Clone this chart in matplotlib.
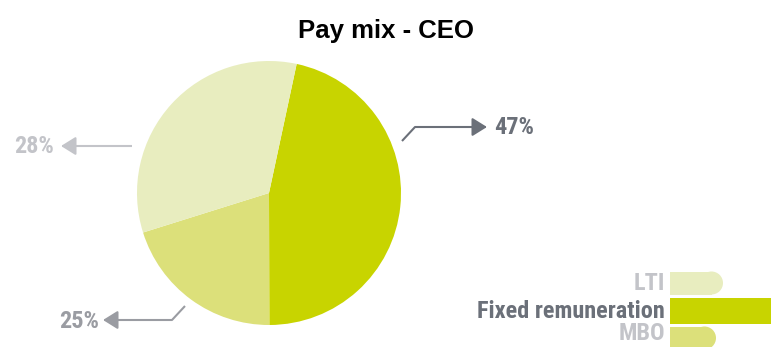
import matplotlib.pyplot as plt
from matplotlib import font_manager
from matplotlib.patches import Rectangle, Ellipse

W, H = 771, 347

# pay mix of the CEO
categories = ['Fixed remuneration', 'MBO', 'LTI']
pct_labels = ['47%', '25%', '28%']
# wedge shares as drawn in the picture (clockwise from the top)
shares = [46.6, 20.2, 33.2]
colors = ['#c8d400', '#dce07a', '#e8edbf']
label_colors = ['#6b7079', '#9a9ca2', '#c3c4c9']

# look for a condensed face, otherwise use Liberation Sans
names = {f.name for f in font_manager.fontManager.ttflist}
narrow = None
for cand in ['Liberation Sans Narrow', 'Roboto Condensed', 'Open Sans Condensed',
             'Noto Sans Condensed', 'DejaVu Sans Condensed']:
    if cand in names:
        narrow = cand
        break
if narrow is None:
    font_kw = dict(family=['Liberation Sans', 'DejaVu Sans'], fontsize=15)
else:
    font_kw = dict(family=[narrow, 'DejaVu Sans'], fontsize=17.5)

fig = plt.figure(figsize=(W / 100, H / 100), dpi=100)
ax = fig.add_axes([0, 0, 1, 1])

cx, cy, r = 269, H - 193, 132
ax.pie(shares, colors=colors, startangle=77.9, counterclock=False,
       center=(cx, cy), radius=r, wedgeprops=dict(linewidth=0), frame=True)
ax.set_xlim(0, W)
ax.set_ylim(0, H)
ax.axis('off')


def leader(points, tip, color):
    xs = [p[0] for p in points]
    ys = [H - p[1] for p in points]
    ax.plot(xs, ys, color=color, lw=1.5, solid_capstyle='butt')
    ax.annotate('', xy=(tip[0], H - tip[1]), xytext=(xs[-1], ys[-1]),
                arrowprops=dict(arrowstyle='-|>,head_length=0.45,head_width=0.28',
                                color=color, lw=1.5, mutation_scale=20,
                                shrinkA=0, shrinkB=0))


# 47% (fixed)
leader([(402, 141), (415, 127), (472, 127)], (487, 127), label_colors[0])
ax.text(494, H - 127, pct_labels[0], color=label_colors[0],
        fontweight='bold', ha='left', va='center', **font_kw)

# 25% (MBO)
leader([(185, 306), (172, 320), (118, 320)], (103, 320), label_colors[1])
ax.text(99, H - 321, pct_labels[1], color=label_colors[1],
        fontweight='bold', ha='right', va='center', **font_kw)

# 28% (LTI)
leader([(132, 146), (76, 146)], (61, 146), label_colors[2])
ax.text(54, H - 146, pct_labels[2], color=label_colors[2],
        fontweight='bold', ha='right', va='center', **font_kw)

# legend bars at bottom right
legend_rows = [('LTI', 283, 283, 23, 723, colors[2], label_colors[2]),
               ('Fixed remuneration', 311, 311, 26, 790, colors[0], label_colors[0]),
               ('MBO', 338, 334, 23, 716, colors[1], label_colors[2])]
x0 = 670
for name, yc, ty, h, x1, col, tcol in legend_rows:
    rad = h / 2
    ax.add_patch(Rectangle((x0, H - yc - rad), x1 - rad - x0, h,
                           facecolor=col, edgecolor='none'))
    ax.add_patch(Ellipse((x1 - rad, H - yc), h, h, facecolor=col, edgecolor='none'))
    ax.text(665, H - ty, name, color=tcol, fontweight='bold',
            ha='right', va='center', **font_kw)

fig.text(0.5, 1 - 38 / H, 'Pay mix - CEO', ha='center', va='baseline',
         fontsize=18.5, fontweight='bold', family='Liberation Sans')

fig.savefig('out.png', dpi=100)
